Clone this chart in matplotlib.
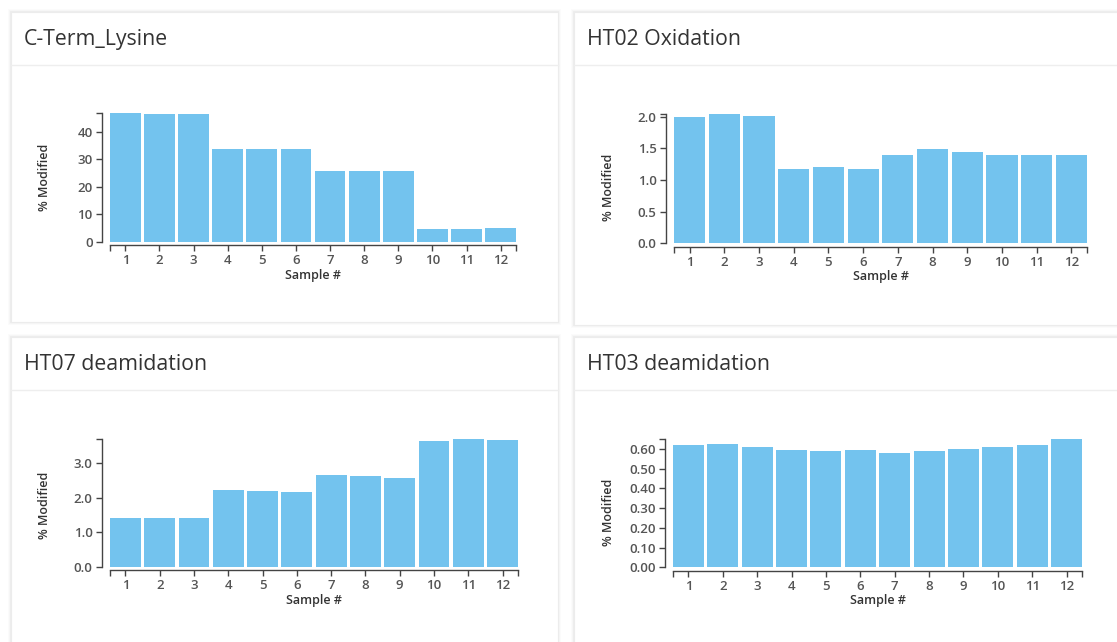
import matplotlib
matplotlib.use('Agg')
import matplotlib.pyplot as plt
from matplotlib.patches import Rectangle
from matplotlib.ticker import FormatStrFormatter

plt.rcParams['font.family'] = ['Open Sans', 'DejaVu Sans']

W, H = 1117, 642

samples = list(range(1, 13))

titles = ['C-Term_Lysine', 'HT02 Oxidation', 'HT07 deamidation', 'HT03 deamidation']

cterm_lysine = [46.7, 46.6, 46.4, 33.6, 33.6, 33.6, 25.8, 25.8, 25.8, 4.7, 4.7, 4.9]
ht02_oxidation = [1.99, 2.04, 2.01, 1.18, 1.20, 1.18, 1.40, 1.48, 1.44, 1.40, 1.40, 1.40]
ht07_deamidation = [1.42, 1.42, 1.42, 2.23, 2.19, 2.16, 2.66, 2.63, 2.57, 3.65, 3.71, 3.67]
ht03_deamidation = [0.619, 0.624, 0.612, 0.597, 0.592, 0.597, 0.582, 0.592, 0.602, 0.609, 0.619, 0.651]

yticks = [
    [0, 10, 20, 30, 40],
    [0.0, 0.5, 1.0, 1.5, 2.0],
    [0.0, 1.0, 2.0, 3.0],
    [0.0, 0.1, 0.2, 0.3, 0.4, 0.5, 0.6],
]
yfmt = ['%d', '%.1f', '%.1f', '%.2f']
series = [cterm_lysine, ht02_oxidation, ht07_deamidation, ht03_deamidation]

# panel boxes (left, top, right, bottom) in pixels
panels = [(11, 12, 558, 322), (574, 12, 1125, 325), (11, 337, 558, 650), (574, 337, 1125, 650)]
header_y = [65, 65, 390, 390]
# plot area (left, top, right, bottom) in pixels
areas = [(110, 113.3, 516, 241.7), (674, 114, 1087, 243.3),
         (110, 439, 518, 566.7), (673, 439, 1082, 567.3)]
ylab_pos = [(45, 177), (609, 187), (45, 505), (609, 512)]

bar_color = '#73C3EE'
tick_col = '#555555'

fig = plt.figure(figsize=(W / 100, H / 100), dpi=100)
fig.patch.set_facecolor('white')

def px(x, y):
    return x / W, 1 - y / H

for i in range(4):
    l, t, r, b = panels[i]
    # soft shadow
    for k, a in [(3, 0.015), (2, 0.02), (1, 0.03)]:
        fig.patches.append(Rectangle(px(l - k, b + k), (r - l + 2 * k) / W, (b - t + 2 * k) / H,
                                     transform=fig.transFigure, facecolor='black', alpha=a,
                                     edgecolor='none', zorder=0))
    fig.patches.append(Rectangle(px(l, b), (r - l) / W, (b - t) / H, transform=fig.transFigure,
                                 facecolor='white', edgecolor='#ececec', lw=0.8, zorder=1))
    fig.lines.append(plt.Line2D([l / W, r / W], [1 - header_y[i] / H] * 2,
                                transform=fig.transFigure, color='#eeeeee', lw=1, zorder=2))
    fig.text(*px(l + 13, (t + header_y[i]) / 2 + 1), titles[i], fontsize=15.3, color='#333333',
             va='center', ha='left', zorder=3)

    al, at, ar, ab = areas[i]
    ax = fig.add_axes([al / W, 1 - ab / H, (ar - al) / W, (ab - at) / H])
    ax.set_zorder(5)
    ax.patch.set_alpha(0)
    vals = series[i]
    ax.bar(samples, vals, width=0.9, color=bar_color)
    ax.set_xlim(0.55, 12.45)
    ymax = max(vals)
    ax.set_ylim(0, ymax)
    ax.set_xticks(samples)
    ax.set_xticks([0.55, 12.45], minor=True)
    ax.set_yticks(yticks[i])
    ax.set_yticks([ymax], minor=True)
    ax.yaxis.set_major_formatter(FormatStrFormatter(yfmt[i]))
    for s in ['top', 'right']:
        ax.spines[s].set_visible(False)
    ax.spines['left'].set_position(('outward', 6))
    ax.spines['bottom'].set_position(('outward', 2.5))
    for s in ['left', 'bottom']:
        ax.spines[s].set_color('#444444')
        ax.spines[s].set_linewidth(1)
    ax.tick_params(which='both', length=4.5, width=1, color='#444444')
    ax.tick_params(which='minor', labelleft=False, labelbottom=False)
    ax.tick_params(which='major', labelsize=9.5, labelcolor=tick_col, pad=2)
    for lab in ax.get_xticklabels() + ax.get_yticklabels():
        lab.set_fontweight('semibold')
    ax.set_xlabel('Sample #', fontsize=9, color='#333333', fontweight='semibold', labelpad=1)
    fig.text(*px(*ylab_pos[i]), '% Modified', rotation=90, fontsize=9, color='#333333',
             fontweight='semibold', ha='center', va='center', zorder=6)

fig.savefig('out.png', dpi=100)
